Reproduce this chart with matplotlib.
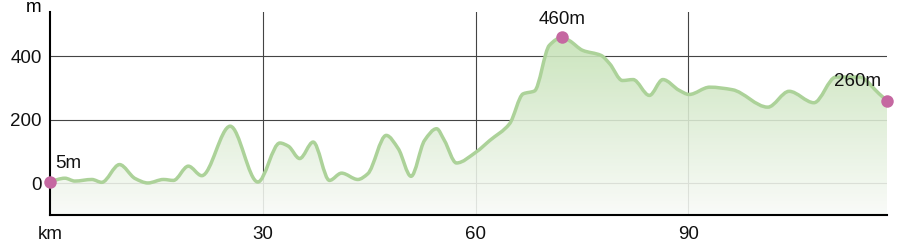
import numpy as np
import matplotlib.pyplot as plt
from matplotlib.path import Path
from matplotlib.patches import PathPatch
from matplotlib.colors import LinearSegmentedColormap

plt.rcParams["font.family"] = ["Liberation Sans", "DejaVu Sans"]

# elevation profile
km = [0, 2.1, 3.5, 5.9, 7.3, 9.8, 12, 13.8, 16, 17.4, 19.5, 21.4, 25.4, 29.3,
      32.4, 33.6, 35.2, 37.1, 39.4, 41.1, 43.4, 44.8, 47.4, 49.1, 50.9, 52.8,
      54.5, 55.6, 57.3, 60.1, 62, 64.8, 66.7, 68.3, 70.4, 72.2, 73.2, 75.1,
      77.7, 78.9, 80.7, 82.2, 84.5, 86.4, 88.7, 90.1, 93, 96.2, 101.2, 104.2,
      107.7, 110.8, 114.1, 116.9, 118]
elev = [5, 16, 7, 12, 3, 59, 15, 1, 12, 9, 54, 24, 180, 4,
        127, 117, 78, 130, 9, 32, 12, 30, 151, 109, 22, 135,
        172, 135, 64, 99, 135, 188, 282, 291, 435, 460, 450, 419,
        403, 377, 324, 327, 277, 327, 293, 280, 303, 295, 240, 290,
        254, 335, 335, 282, 260]

marker_km = [0, 72.2, 118]
marker_elev = [5, 460, 260]
marker_text = ["5m", "460m", "260m"]

x_ticks = [0, 30, 60, 90]
x_labels = ["km", "30", "60", "90"]
y_ticks = [0, 200, 400]


def smooth_path(xs, ys):
    # monotone cubic bezier through the points
    xs = np.asarray(xs, float)
    ys = np.asarray(ys, float)
    n = len(xs)
    d = np.diff(ys) / np.diff(xs)
    m = np.zeros(n)
    m[0], m[-1] = d[0], d[-1]
    for i in range(1, n - 1):
        if d[i - 1] * d[i] <= 0:
            m[i] = 0
        else:
            w1 = 2 * (xs[i + 1] - xs[i]) + (xs[i] - xs[i - 1])
            w2 = (xs[i + 1] - xs[i]) + 2 * (xs[i] - xs[i - 1])
            m[i] = (w1 + w2) / (w1 / d[i - 1] + w2 / d[i])
    verts = [(xs[0], ys[0])]
    codes = [Path.MOVETO]
    for i in range(n - 1):
        h = (xs[i + 1] - xs[i]) / 3
        verts += [(xs[i] + h, ys[i] + m[i] * h),
                  (xs[i + 1] - h, ys[i + 1] - m[i + 1] * h),
                  (xs[i + 1], ys[i + 1])]
        codes += [Path.CURVE4] * 3
    return verts, codes


fig = plt.figure(figsize=(9, 2.5), dpi=100)
ax = fig.add_axes([50 / 900, 1 - 215 / 250, 837 / 900, 203 / 250])
ax.set_xlim(0, 118)
ax.set_ylim(-100, 540)

# grid
for y in y_ticks:
    ax.axhline(y, color="#444444", lw=0.8, zorder=1)
for x in x_ticks[1:]:
    ax.axvline(x, color="#444444", lw=0.8, zorder=1)

verts, codes = smooth_path(km, elev)
line = Path(verts, codes)

# area with vertical gradient
area = Path(verts + [(km[-1], -100), (km[0], -100), (km[0], elev[0])],
            codes + [Path.LINETO, Path.LINETO, Path.CLOSEPOLY])
cmap = LinearSegmentedColormap.from_list("g", ["#f9fbf8", "#dfeed7", "#c3e1b3"])
grad = np.linspace(0, 1, 256).reshape(-1, 1)
im = ax.imshow(grad, cmap=cmap, origin="lower", aspect="auto",
               extent=(0, 118, -100, 470), alpha=0.88, zorder=2)
im.set_clip_path(PathPatch(area, transform=ax.transData))

ax.add_patch(PathPatch(line, fill=False, edgecolor="#acd299", lw=2.5,
                       capstyle="round", joinstyle="round", zorder=3))

ax.plot(marker_km, marker_elev, "o", color="#c568a1", ms=9, mec="none",
        zorder=5, clip_on=False)
offsets = [(4, 13, "left"), (0, 13, "center"), (-4, 14, "right")]
for xk, yk, t, (dx, dy, ha) in zip(marker_km, marker_elev, marker_text, offsets):
    ax.annotate(t, (xk, yk), xytext=(dx, dy), textcoords="offset points",
                ha=ha, va="center", fontsize=13.5, color="#111111", zorder=6)

ax.annotate("m", (0, 1), xycoords="axes fraction", xytext=(-12, 3),
            textcoords="offset points", ha="center", va="center", fontsize=13.5)

for s in ["top", "right"]:
    ax.spines[s].set_visible(False)
for s in ["left", "bottom"]:
    ax.spines[s].set_linewidth(1.5)
    ax.spines[s].set_zorder(4)

ax.set_xticks(x_ticks)
ax.set_xticklabels(x_labels)
ax.set_yticks(y_ticks)
ax.tick_params(axis="both", length=0, labelsize=13.5, colors="#111111")
ax.tick_params(axis="x", pad=8)
ax.tick_params(axis="y", pad=6)
ax.set_xticks([0], minor=True)
ax.tick_params(axis="x", which="minor", length=6, width=1.5)

fig.savefig("out.png", dpi=100, facecolor="white")
